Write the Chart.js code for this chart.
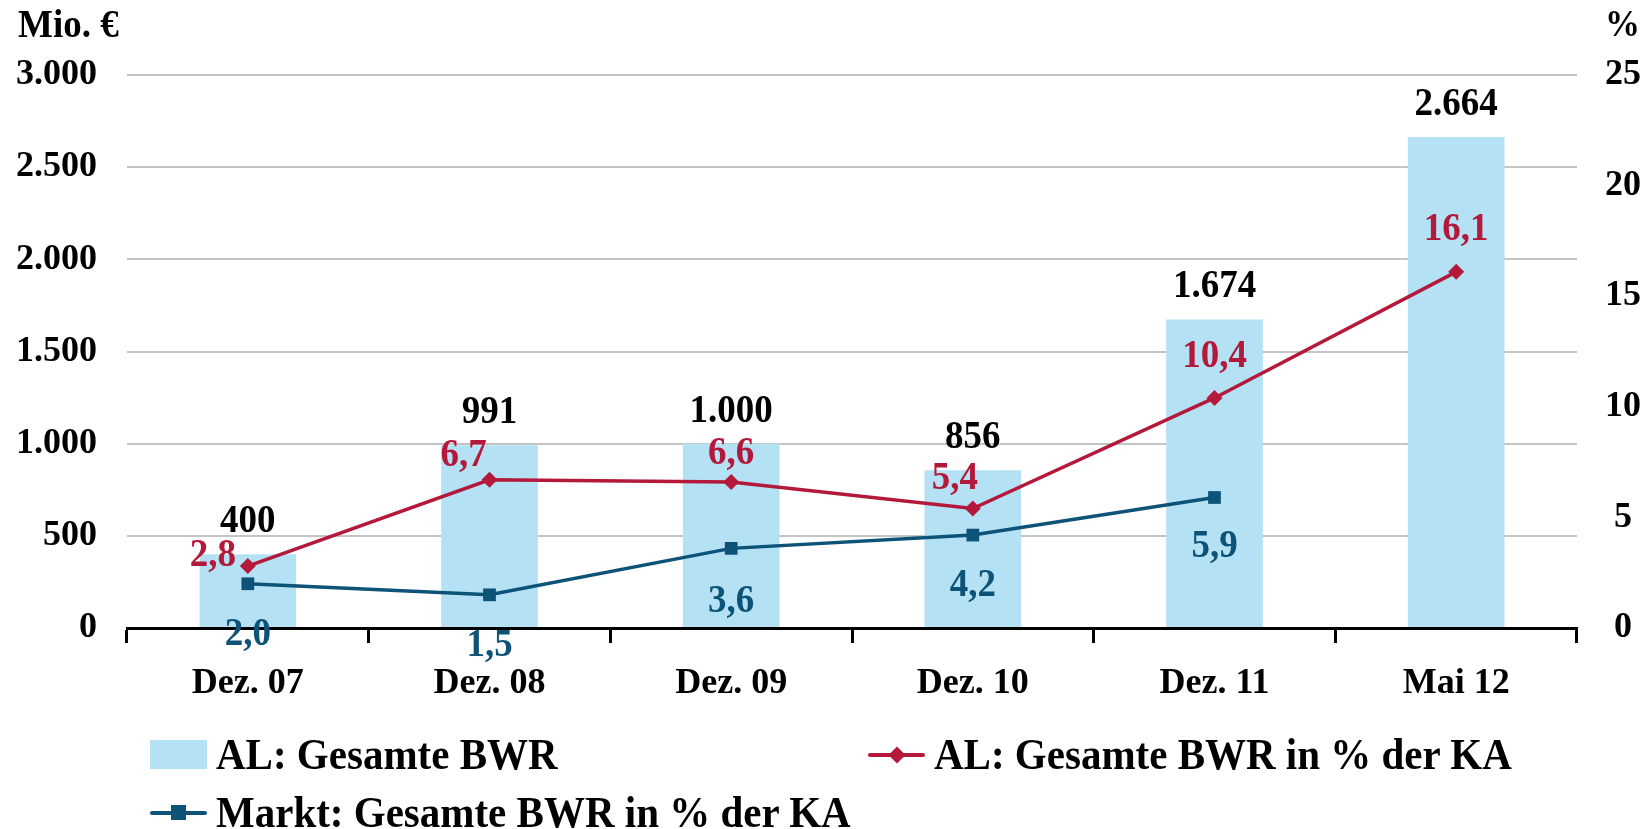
<!DOCTYPE html>
<html>
<head>
<meta charset="utf-8">
<script src="https://cdn.jsdelivr.net/npm/chart.js@4"></script>
<style>
  html, body { margin: 0; padding: 0; background: #fff; }
  #wrap { position: relative; width: 1648px; height: 829px; }
  #chart { position: absolute; left: 0; top: 0; }
  .leg { position: absolute; display: flex; align-items: center; font-family: 'Liberation Serif', 'Times New Roman', serif; font-weight: bold; font-size: 41px; color: #000; white-space: nowrap; line-height: 1; }
  .leg span { display: inline-block; transform: scaleY(1.08); }
  .leg .mk { position: relative; width: 57px; height: 30px; margin-right: 9px; }
  .mk.box { background: #b4e1f4; height: 29px; }
  .mk .ln { position: absolute; left: 0; right: 0; top: 13px; height: 4px; border-radius: 2px; }
  .mk .dot { position: absolute; left: 21px; top: 7px; width: 15px; height: 15px; }
  .mk .dia { position: absolute; left: 23px; top: 9px; width: 12px; height: 12px; transform: rotate(45deg); }
</style>
</head>
<body>
<div id="wrap">
  <canvas id="chart" width="1648" height="829"></canvas>
  <div class="leg" style="left:150px; top:734px;"><div class="mk box"></div><span>AL: Gesamte BWR</span></div>
  <div class="leg" style="left:868px; top:734px;"><div class="mk"><div class="ln" style="background:#b4183a"></div><div class="dia" style="background:#b4183a"></div></div><span>AL: Gesamte BWR in % der KA</span></div>
  <div class="leg" style="left:150px; top:792px;"><div class="mk"><div class="ln" style="background:#0d5378"></div><div class="dot" style="background:#0d5378"></div></div><span>Markt: Gesamte BWR in % der KA</span></div>
</div>
<script>
// Daten
const categories = ['Dez. 07', 'Dez. 08', 'Dez. 09', 'Dez. 10', 'Dez. 11', 'Mai 12'];
const bwrAL = [400, 991, 1000, 856, 1674, 2664];          // Mio. €
const pctAL = [2.8, 6.7, 6.6, 5.4, 10.4, 16.1];           // %
const pctMarkt = [2.0, 1.5, 3.6, 4.2, 5.9, null];         // %

const FONT = "'Liberation Serif', 'Times New Roman', serif";
const RED = '#b4183a';
const BLUE = '#0d5378';
const BAR = '#b4e1f4';

// Tausenderpunkt / Dezimalkomma
function fmtThousands(v) {
    return String(Math.round(v)).replace(/\B(?=(\d{3})+(?!\d))/g, '.');
}
function fmtPct(v) {
    return v.toFixed(1).replace('.', ',');
}

// Label-Versatz relativ zum Punkt (dx = Mitte, dy = Grundlinie)
const redLabelPos = [[-35, 0], [-26, -14], [0, -18], [-18, -20], [0, -31], [0, -32]];
const blueLabelPos = [[0, 61], [0, 61], [0, 64], [0, 61], [0, 60], [0, 60]];

// Text leicht gestreckt zeichnen (wie im Original)
function drawText(ctx, txt, x, y) {
    ctx.save();
    ctx.translate(x, y);
    ctx.scale(1, 1.08);
    ctx.fillText(txt, 0, 0);
    ctx.restore();
}

const labelPlugin = {
    id: 'valueLabels',
    afterDatasetsDraw(chart) {
        const ctx = chart.ctx;
        ctx.save();
        ctx.font = `bold 37px ${FONT}`;
        ctx.textAlign = 'center';
        ctx.textBaseline = 'alphabetic';

        // Balkenwerte
        chart.getDatasetMeta(0).data.forEach((el, i) => {
            ctx.fillStyle = '#000';
            drawText(ctx, fmtThousands(bwrAL[i]), el.x, el.y - 22);
        });
        // AL %
        chart.getDatasetMeta(1).data.forEach((el, i) => {
            const p = redLabelPos[i];
            ctx.fillStyle = RED;
            drawText(ctx, fmtPct(pctAL[i]), el.x + p[0], el.y + p[1]);
        });
        // Markt %
        chart.getDatasetMeta(2).data.forEach((el, i) => {
            if (pctMarkt[i] == null) return;
            const p = blueLabelPos[i];
            ctx.fillStyle = BLUE;
            drawText(ctx, fmtPct(pctMarkt[i]), el.x + p[0], el.y + p[1]);
        });

        // Achsentitel
        ctx.fillStyle = '#000';
        ctx.font = `bold 37px ${FONT}`;
        ctx.textAlign = 'left';
        drawText(ctx, 'Mio. €', 18, 37);
        ctx.font = `bold 35px ${FONT}`;
        drawText(ctx, '%', 1605, 36);
        ctx.restore();
    }
};

const ctx = document.getElementById('chart');
new Chart(ctx, {
    data: {
        labels: categories,
        datasets: [
            {
                type: 'bar',
                label: 'AL: Gesamte BWR',
                data: bwrAL,
                yAxisID: 'y',
                backgroundColor: BAR,
                borderWidth: 0,
                barPercentage: 0.4,
                categoryPercentage: 1.0,
                order: 3
            },
            {
                type: 'line',
                label: 'AL: Gesamte BWR in % der KA',
                data: pctAL,
                yAxisID: 'y1',
                borderColor: RED,
                backgroundColor: RED,
                borderWidth: 3.5,
                pointStyle: 'rectRot',
                pointRadius: 8,
                pointBorderWidth: 0,
                tension: 0,
                order: 1
            },
            {
                type: 'line',
                label: 'Markt: Gesamte BWR in % der KA',
                data: pctMarkt,
                yAxisID: 'y1',
                borderColor: BLUE,
                backgroundColor: BLUE,
                borderWidth: 3.5,
                pointStyle: 'rect',
                pointRadius: 9,
                pointBorderWidth: 0,
                tension: 0,
                order: 2
            }
        ]
    },
    options: {
        responsive: false,
        animation: false,
        layout: { padding: { top: 75, left: 0, right: 0, bottom: 0 } },
        plugins: {
            legend: { display: false },
            tooltip: { enabled: false }
        },
        scales: {
            x: {
                offset: true,
                grid: {
                    offset: true,
                    drawOnChartArea: false,
                    drawTicks: true,
                    tickLength: 15,
                    tickWidth: 3,
                    tickColor: '#000'
                },
                border: { display: true, color: '#000', width: 3 },
                ticks: {
                    color: '#000',
                    font: { family: FONT, weight: 'bold', size: 36 },
                    padding: 19,
                    maxRotation: 0
                },
                afterFit(scale) { scale.height = 201; }
            },
            y: {
                position: 'left',
                min: 0,
                max: 3000,
                grid: { color: '#c4c4c4', lineWidth: 2, drawTicks: false },
                border: { display: false },
                ticks: {
                    stepSize: 500,
                    color: '#000',
                    padding: 30,
                    font: { family: FONT, weight: 'bold', size: 36 },
                    callback: (v) => fmtThousands(v)
                },
                afterFit(scale) { scale.width = 127; }
            },
            y1: {
                position: 'right',
                min: 0,
                max: 25,
                grid: { drawOnChartArea: false, drawTicks: false },
                border: { display: false },
                ticks: {
                    stepSize: 5,
                    color: '#000',
                    padding: 28,
                    crossAlign: 'center',
                    font: { family: FONT, weight: 'bold', size: 36 }
                },
                afterFit(scale) { scale.width = 71; }
            }
        }
    },
    plugins: [labelPlugin]
});
</script>
</body>
</html>
